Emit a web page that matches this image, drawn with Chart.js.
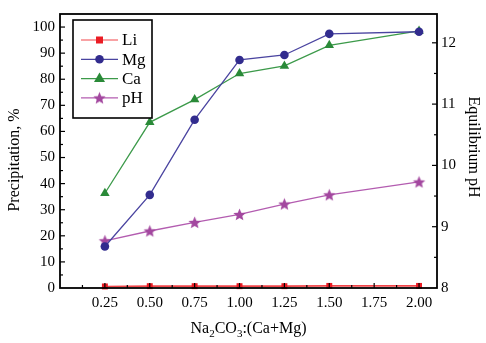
<!DOCTYPE html>
<html>
<head>
<meta charset="utf-8">
<script src="https://cdn.jsdelivr.net/npm/chart.js@4.4.1/dist/chart.umd.min.js"></script>
<style>
  html, body { margin: 0; padding: 0; background: #fff; }
  #wrap { width: 486px; height: 343px; }
</style>
</head>
<body>
<div id="wrap"><canvas id="chart"></canvas></div>
<script>
// Na2CO3:(Ca+Mg) molar ratio
var ratios = [0.25, 0.50, 0.75, 1.00, 1.25, 1.50, 2.00];
// precipitation, %
var liValues = [0.6, 0.7, 0.7, 0.7, 0.7, 0.8, 0.8];
var mgValues = [15.9, 35.7, 64.5, 87.4, 89.3, 97.4, 98.2];
var caValues = [36.3, 63.5, 72.2, 82.2, 85.1, 93.0, 98.5];
// equilibrium pH (right axis)
var phValues = [8.77, 8.93, 9.07, 9.20, 9.37, 9.52, 9.73];

var xTickValues = [0.25, 0.50, 0.75, 1.00, 1.25, 1.50, 1.75, 2.00];
var leftTickValues = [0, 10, 20, 30, 40, 50, 60, 70, 80, 90, 100];
var rightTickValues = [8, 9, 10, 11, 12];

var SERIF = '"Liberation Serif", "Times New Roman", serif';

function pairs(xs, ys) {
    return xs.map(function (x, i) { return { x: x, y: ys[i] }; });
}

// filled five-point star used as point style for pH
function starImage(color, r) {
    var size = Math.ceil(r * 2) + 2;
    var cv = document.createElement('canvas');
    cv.width = size; cv.height = size;
    var g = cv.getContext('2d');
    g.fillStyle = color;
    g.beginPath();
    for (var i = 0; i < 10; i++) {
        var rad = i % 2 ? r * 0.45 : r;
        var a = -Math.PI / 2 + i * Math.PI / 5;
        g.lineTo(size / 2 + rad * Math.cos(a), size / 2 + 0.5 + rad * Math.sin(a));
    }
    g.closePath();
    g.fill();
    return cv;
}

var starPt = starImage('#a3479f', 6.5);

// draws a marker in the legend
function drawMarker(ctx, style, color, x, y) {
    ctx.fillStyle = color;
    ctx.beginPath();
    if (style === 'rect') {
        ctx.rect(x - 3.5, y - 3.5, 7, 7);
    } else if (style === 'circle') {
        ctx.arc(x, y, 4.3, 0, Math.PI * 2);
    } else if (style === 'triangle') {
        ctx.moveTo(x, y - 6);
        ctx.lineTo(x + 5.5, y + 3.5);
        ctx.lineTo(x - 5.5, y + 3.5);
        ctx.closePath();
    } else {
        ctx.drawImage(style, x - style.width / 2, y - style.height / 2);
        return;
    }
    ctx.fill();
}

var framePlugin = {
    id: 'frame',
    afterDatasetsDraw: function (chart) {
        var ctx = chart.ctx, a = chart.chartArea, s = chart.scales;
        ctx.save();
        ctx.strokeStyle = '#000';
        ctx.lineWidth = 1.8;
        ctx.strokeRect(a.left, a.top, a.right - a.left, a.bottom - a.top);

        ctx.lineWidth = 1.2;
        function tick(x1, y1, x2, y2) {
            ctx.beginPath(); ctx.moveTo(x1, y1); ctx.lineTo(x2, y2); ctx.stroke();
        }
        var i, p, len;
        // x ticks, inward
        for (i = 1; i <= 16; i++) {
            p = s.x.getPixelForValue(i * 0.125);
            len = i % 2 === 0 ? 5 : 3;
            tick(p, a.bottom, p, a.bottom - len);
        }
        // left ticks
        for (i = 1; i <= 20; i++) {
            p = s.y.getPixelForValue(i * 5);
            len = i % 2 === 0 ? 5 : 3;
            tick(a.left, p, a.left + len, p);
        }
        // right ticks
        for (i = 1; i <= 8; i++) {
            p = s.y1.getPixelForValue(8 + i * 0.5);
            len = i % 2 === 0 ? 5 : 3;
            tick(a.right, p, a.right - len, p);
        }

        // legend box
        var lx = a.left + 13, ly = a.top + 6;
        ctx.lineWidth = 1.6;
        ctx.fillStyle = '#fff';
        ctx.fillRect(lx, ly, 79, 98);
        ctx.strokeRect(lx, ly, 79, 98);
        ctx.font = '17px ' + SERIF;
        ctx.textBaseline = 'middle';
        ctx.textAlign = 'left';
        chart.data.datasets.forEach(function (ds, k) {
            var y = ly + 20 + k * 19.3;
            ctx.strokeStyle = ds.borderColor;
            ctx.lineWidth = 1.2;
            tick(lx + 8, y, lx + 45, y);
            drawMarker(ctx, ds.pointStyle, ds.pointBackgroundColor, lx + 26.5, y);
            ctx.fillStyle = '#000';
            ctx.fillText(ds.label, lx + 49, y + 1);
        });

        // axis titles
        ctx.fillStyle = '#000';
        ctx.font = '16px ' + SERIF;
        ctx.textAlign = 'center';
        ctx.save();
        ctx.translate(15, 160);
        ctx.rotate(-Math.PI / 2);
        ctx.fillText('Precipitation, %', 0, 0);
        ctx.restore();

        ctx.save();
        ctx.translate(473, 147);
        ctx.rotate(Math.PI / 2);
        ctx.fillText('Equilibrium pH', 0, 0);
        ctx.restore();

        // x title with subscripts
        var parts = [['Na', 0], ['2', 1], ['CO', 0], ['3', 1], [':(Ca+Mg)', 0]];
        var total = 0;
        parts.forEach(function (pt) {
            ctx.font = (pt[1] ? '11px ' : '16px ') + SERIF;
            pt.push(ctx.measureText(pt[0]).width);
            total += pt[2];
        });
        var cx = (a.left + a.right) / 2 - total / 2, by = 333;
        ctx.textAlign = 'left';
        ctx.textBaseline = 'alphabetic';
        parts.forEach(function (pt) {
            ctx.font = (pt[1] ? '11px ' : '16px ') + SERIF;
            ctx.fillText(pt[0], cx, pt[1] ? by + 4 : by);
            cx += pt[2];
        });
        ctx.restore();
    }
};

var chart = new Chart(document.getElementById('chart').getContext('2d'), {
    type: 'line',
    data: {
        datasets: [{
            label: 'Li',
            data: pairs(ratios, liValues),
            yAxisID: 'y',
            borderColor: '#f2464a',
            pointBackgroundColor: '#ea1c24',
            pointBorderWidth: 0,
            pointStyle: 'rect',
            pointRadius: 4.2,
            borderWidth: 1.6,
            clip: false
        }, {
            label: 'Mg',
            data: pairs(ratios, mgValues),
            yAxisID: 'y',
            borderColor: '#4a44a0',
            pointBackgroundColor: '#322c8e',
            pointBorderWidth: 0,
            pointStyle: 'circle',
            pointRadius: 4.3,
            borderWidth: 1.3
        }, {
            label: 'Ca',
            data: pairs(ratios, caValues),
            yAxisID: 'y',
            borderColor: '#3c9a4a',
            pointBackgroundColor: '#2a8a38',
            pointBorderWidth: 0,
            pointStyle: 'triangle',
            pointRadius: 5.5,
            borderWidth: 1.3
        }, {
            label: 'pH',
            data: pairs(ratios, phValues),
            yAxisID: 'y1',
            borderColor: '#b35cb0',
            pointBackgroundColor: '#a3479f',
            pointBorderWidth: 0,
            pointStyle: starPt,
            pointRadius: 6,
            borderWidth: 1.3
        }]
    },
    options: {
        responsive: true,
        maintainAspectRatio: false,
        animation: false,
        layout: { padding: { top: 13, left: 0, right: 0, bottom: 0 } },
        plugins: {
            legend: { display: false },
            tooltip: { enabled: false }
        },
        scales: {
            x: {
                type: 'linear',
                min: 0,
                max: 2.1,
                afterBuildTicks: function (s) { s.ticks = xTickValues.map(function (v) { return { value: v }; }); },
                afterFit: function (s) { s.height = 55; },
                grid: { display: false, drawTicks: false },
                border: { display: false },
                ticks: {
                    padding: 6,
                    maxRotation: 0,
                    color: '#000',
                    font: { family: SERIF, size: 15 },
                    callback: function (v) { return Number(v).toFixed(2); }
                }
            },
            y: {
                type: 'linear',
                position: 'left',
                min: 0,
                max: 105,
                afterBuildTicks: function (s) { s.ticks = leftTickValues.map(function (v) { return { value: v }; }); },
                afterFit: function (s) { s.width = 60; },
                grid: { display: false, drawTicks: false },
                border: { display: false },
                ticks: {
                    padding: 5,
                    color: '#000',
                    font: { family: SERIF, size: 15 }
                }
            },
            y1: {
                type: 'linear',
                position: 'right',
                min: 8,
                max: 12.47,
                afterBuildTicks: function (s) { s.ticks = rightTickValues.map(function (v) { return { value: v }; }); },
                afterFit: function (s) { s.width = 49; },
                grid: { display: false, drawTicks: false },
                border: { display: false },
                ticks: {
                    padding: 4,
                    color: '#000',
                    font: { family: SERIF, size: 15 }
                }
            }
        }
    },
    plugins: [framePlugin]
});
</script>
</body>
</html>
